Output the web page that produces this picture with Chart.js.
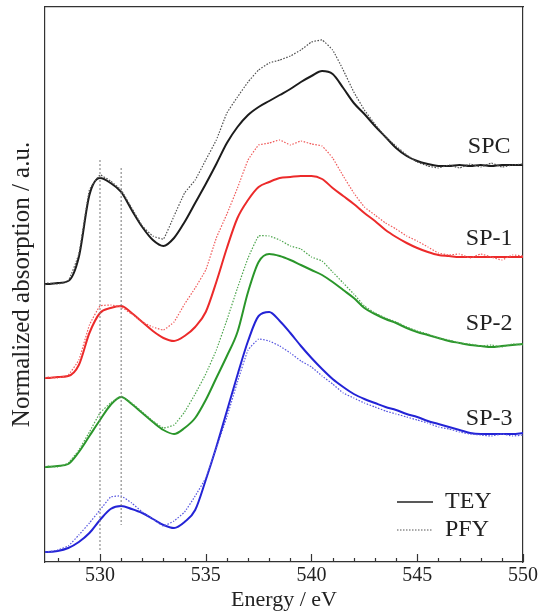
<!DOCTYPE html>
<html>
<head>
<meta charset="utf-8">
<script src="https://cdn.jsdelivr.net/npm/chart.js@4.4.1/dist/chart.umd.min.js"></script>
<style>
  html, body { margin: 0; padding: 0; background: #fff; }
</style>
</head>
<body>
<canvas id="chartXas" width="544" height="613"></canvas>
<script>
// O K-edge XAS, offset spectra (a.u.)
const energies = [527.4, 527.5, 528, 528.5, 529, 529.5, 530, 530.5, 531, 531.5, 532, 532.5, 533, 533.5,
  534, 534.5, 535, 535.5, 536, 536.5, 537, 537.5, 538, 538.5, 539, 539.5, 540, 540.5, 541, 541.5,
  542, 542.5, 543, 543.5, 544, 544.5, 545, 545.5, 546, 546.5, 547, 547.5, 548, 548.5, 549, 549.5, 550];

const spcTey = [269, 269, 270, 272, 296, 358, 375, 370, 361, 343, 326, 313, 307, 315, 331, 350, 369, 389,
  410, 426, 438, 446, 452, 458, 464, 471, 477, 482, 479, 465, 450, 439, 427, 416, 405, 397, 392, 389,
  387, 387, 388, 387, 388, 387, 388, 388, 388];
const spcPfy = [268, 270, 269, 272, 299, 363, 378, 372, 363, 345, 327, 317, 314, 337, 360, 373, 393, 413,
  440, 456, 471, 483, 490, 493, 497, 503, 511, 513, 503, 483, 461, 443, 429, 416, 407, 398, 391, 387,
  385, 388, 385, 389, 386, 390, 386, 388, 389];

const sp1Tey = [175, 175, 176, 177, 188, 220, 240, 245, 247, 240, 231, 222, 215, 212, 217, 226, 241, 271,
  305, 335, 353, 366, 371, 375, 376, 377, 377, 374, 365, 357, 349, 340, 332, 323, 316, 310, 305, 301,
  298, 297, 296, 296, 296, 296, 296, 296, 296];
const sp1Pfy = [175, 176, 175, 178, 193, 228, 247, 248, 246, 239, 231, 226, 223, 231, 249, 265, 283, 315,
  339, 365, 393, 408, 410, 413, 408, 412, 409, 407, 395, 377, 360, 346, 338, 330, 324, 317, 312, 306,
  300, 298, 299, 295, 299, 296, 293, 298, 297];

const sp2Tey = [86, 86, 87, 89, 101, 117, 133, 148, 156, 149, 140, 131, 123, 119, 125, 135, 153, 175,
  197, 221, 261, 291, 299, 297, 293, 288, 283, 278, 271, 263, 255, 245, 239, 234, 230, 225, 221, 218,
  215, 212, 210, 208, 207, 206, 207, 208, 209];
const sp2Pfy = [86, 87, 86, 90, 103, 121, 140, 150, 157, 150, 141, 132, 125, 128, 141, 159, 179, 203,
  233, 265, 295, 317, 317, 313, 307, 304, 296, 292, 281, 270, 259, 247, 240, 235, 231, 226, 222, 219,
  215, 213, 210, 209, 207, 208, 206, 209, 208];

const sp3Tey = [1, 1, 2, 5, 11, 20, 33, 44, 47, 44, 40, 34, 28, 25, 31, 43, 73, 106, 142, 178, 212, 237,
  241, 232, 220, 207, 195, 184, 174, 166, 159, 154, 150, 146, 143, 139, 136, 132, 129, 126, 123, 120,
  119, 119, 119, 119, 120];
const sp3Pfy = [1, 1, 3, 7, 18, 30, 43, 56, 57, 50, 41, 34, 27, 32, 41, 57, 75, 105, 136, 171, 203, 214,
  212, 207, 200, 192, 186, 177, 169, 160, 155, 150, 146, 142, 139, 136, 133, 130, 126, 124, 121, 119,
  118, 117, 119, 117, 118];

const sampleNames = ['SPC', 'SP-1', 'SP-2', 'SP-3'];
const methodNames = ['TEY', 'PFY'];

// dashed guides at the two pre-edge peaks
const guideEnergies = [530, 531];
const guideTop = [393, 385];
const guideBottom = [3, 28];

const serif = "'Liberation Serif', 'Times New Roman', serif";
const pts = serie => serie.map((v, i) => ({ x: energies[i], y: v }));
const isInt = v => Math.abs(v - Math.round(v)) < 1e-6;

const teyColors = ['#1c1c1c', '#ec2a2a', '#2a962a', '#2323d6'];
const pfyColors = ['#505050', '#f05a5a', '#4fa64f', '#5656e0'];
const teySeries = [spcTey, sp1Tey, sp2Tey, sp3Tey];
const pfySeries = [spcPfy, sp1Pfy, sp2Pfy, sp3Pfy];

const datasets = [];
guideEnergies.forEach((e, i) => {
  datasets.push({
    label: 'guide ' + e,
    data: [{ x: e, y: guideTop[i] }, { x: e, y: guideBottom[i] }],
    borderColor: '#777', borderWidth: 1, borderDash: [2, 2], pointRadius: 0
  });
});
sampleNames.forEach((name, i) => {
  datasets.push({
    label: `${name} PFY`, data: pts(pfySeries[i]),
    borderColor: pfyColors[i], borderWidth: 1.2, borderDash: [1.5, 1.5],
    pointRadius: 0, tension: 0.1
  });
  datasets.push({
    label: `${name} TEY`, data: pts(teySeries[i]),
    borderColor: teyColors[i], borderWidth: 2,
    pointRadius: 0, cubicInterpolationMode: 'monotone'
  });
});

// inward tick marks, sample names and the TEY/PFY key
const annotationsPlugin = {
  id: 'annotations',
  afterDatasetsDraw(chart, args, opts) {
    const { ctx, chartArea, scales: { x, y } } = chart;
    ctx.save();
    ctx.strokeStyle = '#333';
    ctx.lineWidth = 1.2;
    x.ticks.forEach(t => {
      if (!isInt(t.value)) return;
      const px = Math.round(x.getPixelForValue(t.value)) + 0.5;
      const len = Math.round(t.value) % 5 === 0 ? 8 : 4;
      ctx.beginPath();
      ctx.moveTo(px, chartArea.bottom);
      ctx.lineTo(px, chartArea.bottom - len);
      ctx.stroke();
    });

    ctx.fillStyle = '#222';
    ctx.font = `24px ${serif}`;
    ctx.textAlign = 'center';
    ctx.textBaseline = 'middle';
    sampleNames.forEach((name, i) => {
      ctx.fillText(name, x.getPixelForValue(opts.labelX), y.getPixelForValue(opts.labelY[i]));
    });
    ctx.textAlign = 'left';
    methodNames.forEach((m, i) => {
      const yy = chartArea.bottom - 60 + i * 28;
      ctx.beginPath();
      ctx.strokeStyle = i === 0 ? '#222' : '#555';
      ctx.lineWidth = i === 0 ? 1.6 : 1.2;
      ctx.setLineDash(i === 0 ? [] : [1.5, 1.5]);
      ctx.moveTo(chartArea.right - 126, yy);
      ctx.lineTo(chartArea.right - 90, yy);
      ctx.stroke();
      ctx.fillText(m, chartArea.right - 78, yy);
    });
    ctx.restore();
  }
};

const frame = { display: true, color: '#333', width: 1.2 };
const ctx = document.getElementById('chartXas').getContext('2d');
const chart = new Chart(ctx, {
  type: 'line',
  data: { datasets },
  options: {
    responsive: false,
    devicePixelRatio: 1,
    animation: false,
    layout: { padding: { top: 7, right: 21, bottom: 0, left: 0 } },
    plugins: {
      legend: { display: false },
      tooltip: { enabled: false },
      annotations: { labelX: 548.4, labelY: [406, 314, 229, 134] }
    },
    scales: {
      x: {
        type: 'linear', position: 'bottom', min: 527.4, max: 550,
        ticks: {
          stepSize: 1, includeBounds: false, padding: 2, color: '#222', autoSkip: false, maxRotation: 0,
          font: { family: serif, size: 20 },
          callback: v => (isInt(v) && Math.round(v) % 5 === 0) ? Math.round(v) : ''
        },
        grid: { drawOnChartArea: false, drawTicks: false },
        border: frame,
        title: { display: true, text: 'Energy / eV', color: '#222', font: { family: serif, size: 22 }, padding: { top: 0, bottom: 0 } },
        afterFit: s => { s.height = 51; }
      },
      xTop: {
        type: 'linear', position: 'top',
        ticks: { display: false },
        grid: { drawOnChartArea: false, drawTicks: false },
        border: frame,
        afterFit: s => { s.height = 0; }
      },
      y: {
        type: 'linear', position: 'left', min: -9, max: 546,
        ticks: { display: false },
        grid: { drawOnChartArea: false, drawTicks: false },
        border: frame,
        title: { display: true, text: 'Normalized absorption / a.u.', color: '#222', font: { family: serif, size: 25 }, padding: { top: 7, bottom: 0 } },
        afterFit: s => { s.width = 45; }
      },
      yRight: {
        type: 'linear', position: 'right',
        ticks: { display: false },
        grid: { drawOnChartArea: false, drawTicks: false },
        border: frame,
        afterFit: s => { s.width = 0; }
      }
    }
  },
  plugins: [annotationsPlugin]
});
</script>
</body>
</html>
